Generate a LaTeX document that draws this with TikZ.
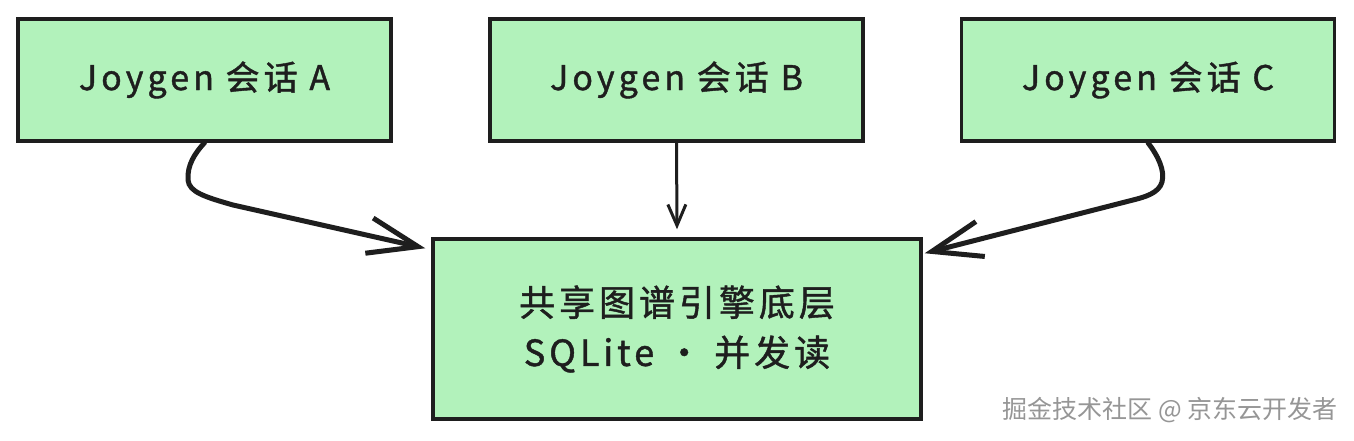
\documentclass[tikz,border=0pt]{standalone}
\usepackage{fontspec}
\setmainfont{Noto Sans CJK SC}
\newfontfamily\topfont{Noto Sans CJK SC}[LetterSpace=12,FakeBold=1.2]
\newfontfamily\basefont{Noto Sans CJK SC}[LetterSpace=11,FakeBold=1.2]
\usetikzlibrary{arrows.meta,calc}
\definecolor{boxfill}{HTML}{B2F2BB}
\definecolor{ink}{HTML}{1E1E1E}
\definecolor{wmgray}{HTML}{969696}
\begin{document}
\begin{tikzpicture}[x=1pt,y=-1pt,
  topbox/.style={draw=ink, fill=boxfill, line width=3.5pt, minimum width=373pt, minimum height=122pt,
    inner sep=0pt, font=\topfont\fontsize{34}{40}\selectfont, text=ink},
  basebox/.style={draw=ink, fill=boxfill, line width=3.5pt, minimum width=488pt, minimum height=180pt,
    inner sep=0pt, align=center, font=\basefont\fontsize{36}{50}\selectfont, text=ink},
  bigconn/.style={draw=ink, line width=5pt, line cap=round, line join=round,
    -{Straight Barb[length=50pt,width=36pt,line width=5pt]}},
  smallconn/.style={draw=ink, line width=3pt, line cap=round,
    -{Straight Barb[length=21pt,width=18pt,line width=3pt]}},
  wm/.style={font=\fontsize{25}{28}\selectfont, text=wmgray, inner sep=0pt}
]
\useasboundingbox (0,0) rectangle (1354,440);
\fill[white] (0,0) rectangle (1354,440);
\node[topbox] (A) at (204.5,80) {Joygen 会话 A};
\node[topbox] (B) at (676.5,80) {Joygen 会话 B};
\node[topbox] (C) at (1148,80) {Joygen 会话 C};
\node[basebox] (D) at (677,329) {共享图谱引擎底层\\SQLite · 并发读};
\coordinate (tipA) at ($(D.north west)+(-6,11)$);
\coordinate (tipB) at ($(D.north)+(0,-8)$);
\coordinate (tipC) at ($(D.north east)+(2,16)$);
\draw[bigconn] (A.south) .. controls (195,153) and (187,165) .. (188,180)
  .. controls (189,192) and (205,197) .. (233,205) -- (tipA);
\draw[smallconn] (B.south) -- (tipB);
\draw[bigconn] (C.south) .. controls (1158,156) and (1165,170) .. (1162,182)
  .. controls (1159,193) and (1145,197) .. (1133,200) -- (tipC);
\node[wm] (W) at (1170,410) {掘金技术社区 @ 京东云开发者};
\end{tikzpicture}
\end{document}
